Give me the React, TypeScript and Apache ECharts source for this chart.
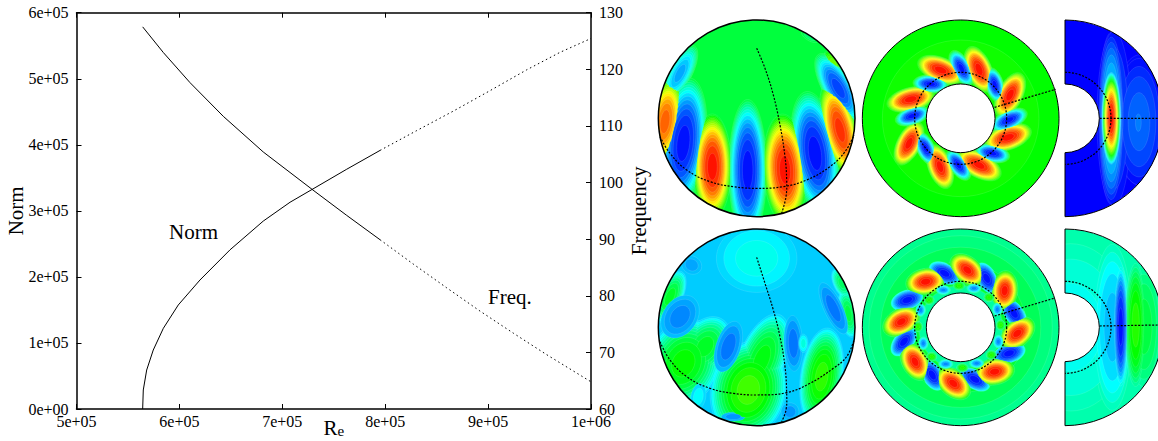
import React, { useEffect, useRef } from "react";
import * as echarts from "echarts";

const SERIF = "'Liberation Serif', 'Times New Roman', serif";

// ---- line chart values ----
const normSolidRe = [564300, 564900, 568200, 574600, 584400, 598900, 620000, 649200, 681500, 707500, 731800, 762600, 795000];
const normSolidValues = [0, 28800, 59000, 89300, 122200, 157500, 195300, 241000, 284500, 313000, 335000, 363000, 391500];
const normDottedRe = [795000, 830600, 866200, 901900, 937500, 969900, 1000000];
const normDottedValues = [391500, 421500, 451000, 482000, 513500, 540000, 561000];
const freqSolidRe = [564300, 584400, 610300, 642700, 681500, 731800, 762600, 795000];
const freqSolidValues = [127.5, 122.96, 117.65, 111.69, 105.4, 98.4, 94.2, 89.9];
const freqDottedRe = [795000, 827300, 859800, 892100, 924500, 956900, 1000000];
const freqDottedValues = [89.9, 85.6, 81.4, 77.3, 73.4, 69.6, 64.8];
const xTickLabels = ["5e+05", "6e+05", "7e+05", "8e+05", "9e+05", "1e+06"];
const leftTickLabels = ["0e+00", "1e+05", "2e+05", "3e+05", "4e+05", "5e+05", "6e+05"];

// ---- contour lobes of the six fields: [x, y, rx, ry, tilt, peak level, paint bonus] ----
const lobesSphereTop = [
  [187, 470, 58, 160, 0, 1], [293, 480, 58, 215, 0, 0], [405, 480, 66, 170, -3, 1],
  [495, 430, 70, 190, -8, 0], [570, 360, 52, 150, -14, 0.97], [565, 235, 46, 120, -30, 0.05],
  [550, 160, 20, 44, -30, 0.62], [100, 400, 70, 200, 6, 0], [45, 335, 52, 135, 8, 0.92],
  [90, 190, 36, 95, 28, 0.15], [480, 80, 32, 14, 30, 0.38],
];
const lobesAnnulusTop = [
  [170, 325, 310, 310, 0, 0.53],
  [110, 180, 38, 74, -68, 1], [225, 178, 38, 74, -23, 1], [318, 255, 38, 74, 27, 1], [312, 382, 38, 74, 72, 1],
  [225, 465, 38, 74, -62, 1], [108, 470, 36, 70, -20, 1], [15, 400, 36, 72, 27, 1], [20, 268, 36, 74, 76, 1],
  [172, 175, 29, 60, -28, 0], [272, 225, 27, 54, -15, 0], [315, 330, 29, 60, 65, 0], [265, 430, 27, 54, -77, 0],
  [163, 465, 27, 54, -35, 0], [65, 415, 27, 54, -25, 0], [25, 318, 27, 54, 72, 0], [80, 222, 27, 54, -85, 0],
];
const lobesHalfTop = [
  [710, 330, 95, 220, 0, 0.04], [630, 325, 55, 280, 0, 0.1], [622, 325, 40, 265, 0, 0.25], [622, 325, 30, 150, 0, 1],
  [705, 335, 75, 200, 0, 0.11], [703, 338, 20, 60, 0, 0.14],
];
const lobesSphereBottom = [
  [320, 115, 130, 110, 0, 0.28], [295, 510, 115, 150, 12, 0.58], [515, 470, 65, 150, 8, 0.56], [335, 420, 70, 150, 22, 0.5],
  [100, 430, 110, 140, 25, 0.52], [165, 380, 70, 100, 32, 0.48], [60, 230, 38, 85, 25, 0.48],
  [595, 280, 30, 75, -10, 0.45], [575, 190, 25, 50, -25, 0.42],
  [235, 380, 40, 85, 18, 0.1, 0.25], [430, 370, 30, 90, -2, 0.1, 0.25], [90, 290, 55, 75, 35, 0.12, 0.25], [550, 265, 30, 90, -25, 0.1, 0.25],
  [125, 135, 35, 30, 30, 0.15, 0.25], [460, 370, 15, 30, 0, 0.3, 0.4], [420, 575, 30, 30, 0, 0.13, 0.25], [250, 590, 40, 15, 0, 0.13, 0.25],
  [145, 530, 25, 45, 10, 0.27, 0.4],
];
const lobesAnnulusBottom = [
  [170, 322, 290, 290, 0, 0.5], [170, 322, 165, 165, 0, 0.33, 0.15],
  [190, 150, 42, 64, -50, 1], [302, 212, 42, 64, 5, 1], [340, 340, 42, 64, 50, 1], [272, 455, 42, 64, 80, 1],
  [148, 490, 42, 64, -50, 1], [33, 425, 42, 64, -28, 1], [65, 185, 42, 64, 80, 1], [-8, 305, 42, 64, 60, 1],
  [122, 160, 33, 56, -62, 0], [248, 175, 33, 56, -28, 0], [330, 280, 33, 56, -35, 0], [315, 400, 33, 56, 72, 0],
  [212, 478, 33, 56, -60, 0], [85, 465, 33, 56, -30, 0], [0, 365, 33, 56, 40, 0], [10, 240, 33, 56, 72, 0],
  [118, 210, 22, 14, 0, 0.12, 0.3], [210, 205, 22, 14, 0, 0.12, 0.3], [280, 268, 15, 20, 0, 0.12, 0.3], [283, 365, 15, 20, 0, 0.12, 0.3],
  [218, 430, 22, 14, 0, 0.12, 0.3], [125, 432, 22, 14, 0, 0.12, 0.3], [58, 370, 15, 20, 0, 0.12, 0.3], [50, 270, 15, 20, 0, 0.12, 0.3],
  [165, 197, 18, 13, 0, 0.55, 0.3], [255, 232, 16, 14, 0, 0.55, 0.3], [290, 315, 14, 16, 0, 0.55, 0.3], [262, 405, 16, 14, 0, 0.55, 0.3],
  [175, 443, 18, 13, 0, 0.55, 0.3], [83, 410, 16, 14, 0, 0.55, 0.3], [42, 320, 14, 16, 0, 0.55, 0.3], [75, 240, 16, 14, 0, 0.55, 0.3],
];
const lobesHalfBottom = [
  [500, 322, 195, 270, 0, 0.25], [625, 322, 62, 260, 0, 0.17], [650, 320, 24, 190, 0, 0],
  [720, 320, 55, 190, 0, 0.45, 0.1], [695, 315, 32, 190, 0, 0.55, 0.1],
];

// ---- dashed guide lines, same crop units ----
const meridianTop = [[320, 115], [345, 175], [370, 255], [390, 345], [405, 440], [410, 510], [408, 560], [395, 610]];
const equatorTop = [[30, 380], [60, 430], [110, 480], [180, 515], [250, 530], [320, 535], [400, 530], [470, 510], [540, 470], [585, 425], [612, 375]];
const meridianBottom = [[320, 112], [345, 190], [370, 270], [390, 350], [405, 440], [410, 520], [408, 570], [395, 605]];
const equatorBottom = [[30, 365], [60, 420], [110, 470], [180, 505], [250, 520], [320, 525], [410, 518], [480, 490], [550, 445], [590, 410], [612, 360]];
const radialAnnulusTop = [[272, 292], [455, 238]];
const radialHalfTop = [[587, 325], [762, 325]];
const radialAnnulusBottom = [[272, 288], [450, 235]];
const radialHalfBottom = [[587, 318], [762, 315]];

const panels = [
  { kind: "sphere", ox: 650, oy: 10, cx: 320, cy: 325, base: 0.44, lobes: lobesSphereTop, lines: [meridianTop, equatorTop] },
  { kind: "annulus", ox: 904, oy: 10, cx: 170, cy: 325, base: 0.5, lobes: lobesAnnulusTop, lines: [radialAnnulusTop] },
  { kind: "half", ox: 904, oy: 10, cx: 483, cy: 325, base: 0, lobes: lobesHalfTop, lines: [radialHalfTop] },
  { kind: "sphere", ox: 650, oy: 220, cx: 320, cy: 322, base: 0.2, lobes: lobesSphereBottom, lines: [meridianBottom, equatorBottom] },
  { kind: "annulus", ox: 904, oy: 220, cx: 170, cy: 322, base: 0.36, lobes: lobesAnnulusBottom, lines: [radialAnnulusBottom] },
  { kind: "half", ox: 904, oy: 220, cx: 483, cy: 322, base: 0.33, lobes: lobesHalfBottom, lines: [radialHalfBottom] },
];

const R_OUT = 295;
const R_IN = 103;
const R_DASH = 138;

function jet(t: number) {
  const r = t < 0.5 ? 0 : t < 0.75 ? (t - 0.5) * 4 : 1;
  const g = t < 0.25 ? t * 4 : t < 0.75 ? 1 : (1 - t) * 4;
  const b = t < 0.25 ? 1 : t < 0.5 ? 1 - (t - 0.25) * 4 : 0;
  return `rgb(${Math.round(r * 255)},${Math.round(g * 255)},${Math.round(b * 255)})`;
}

function bandsOf(lobes: number[][], base: number) {
  const out: any[] = [];
  for (const l of lobes) {
    const peak = l[5];
    const bonus = l[6] || 0;
    const n = Math.max(1, Math.ceil(Math.abs(peak - base) / 0.035));
    for (let k = 1; k <= n; k++) {
      const f = (k - 0.5) / n;
      out.push({ l, t: base + (peak - base) * f, s: Math.pow(1 - f, 0.4), order: Math.abs(peak - base) * f + bonus });
    }
  }
  out.sort((a, b) => a.order - b.order);
  return out;
}

function panelRender(p: any) {
  const bands = bandsOf(p.lobes, p.base);
  return (params: any, api: any) => {
    if (params.dataIndex !== 0) return null;
    const unit = api.size([1, 1])[0];
    const c = api.coord([p.cx, p.cy]);
    const rOut = R_OUT * unit;
    const half = p.kind === "half";
    const children: any[] = [];
    children.push({
      type: half ? "sector" : "circle",
      shape: half
        ? { cx: c[0], cy: c[1], r0: 0, r: rOut, startAngle: -Math.PI / 2, endAngle: Math.PI / 2, clockwise: true }
        : { cx: c[0], cy: c[1], r: rOut },
      style: { fill: jet(p.base), stroke: "none" },
    });
    for (const b of bands) {
      const q = api.coord([b.l[0], b.l[1]]);
      children.push({
        type: "ellipse",
        x: q[0],
        y: q[1],
        rotation: (-b.l[4] * Math.PI) / 180,
        shape: { cx: 0, cy: 0, rx: b.l[2] * unit * b.s, ry: b.l[3] * unit * b.s },
        style: { fill: jet(b.t), stroke: "rgba(255,255,255,0.22)", lineWidth: 0.5 },
      });
    }
    return {
      type: "group",
      clipPath: half
        ? { type: "sector", shape: { cx: c[0], cy: c[1], r0: 0, r: rOut, startAngle: -Math.PI / 2, endAngle: Math.PI / 2, clockwise: true } }
        : { type: "circle", shape: { cx: c[0], cy: c[1], r: rOut } },
      children,
    };
  };
}

function overlayRender(p: any) {
  return (params: any, api: any) => {
    if (params.dataIndex !== 0) return null;
    const unit = api.size([1, 1])[0];
    const c = api.coord([p.cx, p.cy]);
    const rOut = R_OUT * unit;
    const rIn = R_IN * unit;
    const rDash = R_DASH * unit;
    const children: any[] = [];
    const ink = { stroke: "#000", fill: "none", lineWidth: 1 };
    const dash = { stroke: "#000", fill: "none", lineWidth: 1.2, lineDash: [2, 1.5] };
    if (p.kind === "half") {
      const hS = { startAngle: -Math.PI / 2, endAngle: Math.PI / 2, clockwise: true };
      children.push({ type: "sector", shape: { cx: c[0], cy: c[1], r0: 0, r: rIn, ...hS }, style: { fill: "#fff", stroke: "none" } });
      children.push({ type: "sector", shape: { cx: c[0], cy: c[1], r0: rIn, r: rOut, ...hS }, style: ink });
      children.push({ type: "arc", shape: { cx: c[0], cy: c[1], r: rDash, ...hS }, style: dash });
    } else if (p.kind === "annulus") {
      children.push({ type: "circle", shape: { cx: c[0], cy: c[1], r: rIn }, style: { fill: "#fff", stroke: "#000", lineWidth: 1 } });
      children.push({ type: "circle", shape: { cx: c[0], cy: c[1], r: rOut }, style: ink });
      children.push({ type: "circle", shape: { cx: c[0], cy: c[1], r: rDash }, style: dash });
    } else {
      children.push({ type: "circle", shape: { cx: c[0], cy: c[1], r: rOut }, style: { ...ink, lineWidth: 1.5 } });
    }
    for (const line of p.lines) {
      children.push({
        type: "polyline",
        shape: { points: line.map((pt: number[]) => api.coord(pt)), smooth: line.length > 2 ? 0.4 : 0 },
        style: dash,
      });
    }
    return { type: "group", children };
  };
}

function zip(a: number[], b: number[]) {
  return a.map((v, i) => [v, b[i]]);
}

function buildOption() {
  const axisLine = { show: true, lineStyle: { color: "#000", width: 1.5 } };
  const axisTick = { show: true, inside: true, length: 5, lineStyle: { color: "#000", width: 1 } };
  const labelStyle = { fontFamily: SERIF, fontSize: 16, color: "#000" };
  const grids: any[] = [{ left: 76.5, top: 12.7, width: 514.5, height: 396.3, outerBoundsMode: "none" }];
  const xAxes: any[] = [
    {
      type: "value", gridIndex: 0, position: "bottom", min: 500000, max: 1000000, interval: 100000,
      axisLine, axisTick, splitLine: { show: false },
      axisLabel: { ...labelStyle, margin: 4, formatter: (v: number) => xTickLabels[Math.round((v - 500000) / 100000)] },
      name: "{r|R}{e|e}", nameLocation: "middle", nameGap: 8, nameMoveOverlap: false,
      nameTextStyle: {
        rich: {
          r: { fontFamily: SERIF, fontSize: 21, color: "#000", lineHeight: 22 },
          e: { fontFamily: SERIF, fontSize: 15, color: "#000", lineHeight: 15, padding: [5, 0, 0, 0] },
        },
      },
    },
    {
      type: "value", gridIndex: 0, position: "top", min: 500000, max: 1000000, interval: 100000,
      axisLine, axisTick, axisLabel: { show: false }, splitLine: { show: false },
    },
  ];
  const yAxes: any[] = [
    {
      type: "value", gridIndex: 0, position: "left", min: 0, max: 600000, interval: 100000,
      axisLine, axisTick, splitLine: { show: false },
      axisLabel: { ...labelStyle, margin: 8, formatter: (v: number) => leftTickLabels[Math.round(v / 100000)] },
      name: "Norm", nameLocation: "middle", nameGap: 50, nameRotate: 90, nameMoveOverlap: false,
      nameTextStyle: { fontFamily: SERIF, fontSize: 21, color: "#000" },
    },
    {
      type: "value", gridIndex: 0, position: "right", min: 60, max: 130, interval: 10,
      axisLine, axisTick, splitLine: { show: false },
      axisLabel: { ...labelStyle, margin: 8 },
      name: "Frequency", nameLocation: "middle", nameGap: 37, nameRotate: 90, nameMoveOverlap: false,
      nameTextStyle: { fontFamily: SERIF, fontSize: 21, color: "#000" },
    },
  ];
  const line = (name: string, y: number, data: number[][], dotted: boolean) => ({
    type: "line", name, xAxisIndex: 0, yAxisIndex: y, data, showSymbol: false, symbol: "none", smooth: false,
    lineStyle: { color: "#000", width: 1, type: dotted ? [1.5, 3] : "solid" },
  });
  const series: any[] = [
    line("Norm", 0, zip(normSolidRe, normSolidValues), false),
    line("Norm (dotted)", 0, zip(normDottedRe, normDottedValues), true),
    line("Freq.", 1, zip(freqSolidRe, freqSolidValues), false),
    line("Freq. (dotted)", 1, zip(freqDottedRe, freqDottedValues), true),
  ];
  panels.forEach((p, i) => {
    const g = i + 1;
    const ai = i + 2;
    grids.push({
      left: p.ox + (p.cx - R_OUT) / 3,
      top: p.oy + (p.cy - R_OUT) / 3,
      width: (2 * R_OUT) / 3,
      height: (2 * R_OUT) / 3,
      outerBoundsMode: "none",
    });
    xAxes.push({ type: "value", gridIndex: g, min: p.cx - R_OUT, max: p.cx + R_OUT, show: false });
    yAxes.push({ type: "value", gridIndex: g, min: p.cy - R_OUT, max: p.cy + R_OUT, inverse: true, show: false });
    const data = p.lobes.map((l: number[]) => l.slice(0, 2));
    series.push({ type: "custom", name: `field ${g}`, xAxisIndex: ai, yAxisIndex: ai, data, clip: false, silent: true, renderItem: panelRender(p) });
    series.push({ type: "custom", name: `guides ${g}`, xAxisIndex: ai, yAxisIndex: ai, data: [[p.cx, p.cy]], clip: false, silent: true, z: 3, renderItem: overlayRender(p) });
  });
  return {
    animation: false,
    backgroundColor: "#fff",
    grid: grids,
    xAxis: xAxes,
    yAxis: yAxes,
    series,
    graphic: [
      { type: "text", left: 169, top: 221, style: { text: "Norm", font: `21px ${SERIF}`, fill: "#000" } },
      { type: "text", left: 488, top: 286, style: { text: "Freq.", font: `21px ${SERIF}`, fill: "#000" } },
    ],
  };
}

export default function App() {
  const ref = useRef<HTMLDivElement>(null);
  useEffect(() => {
    document.body.style.margin = "0";
    const chart = echarts.init(ref.current!, undefined, { renderer: "svg" });
    chart.setOption(buildOption() as any);
    return () => chart.dispose();
  }, []);
  return <div ref={ref} style={{ width: 1158, height: 441 }} />;
}
